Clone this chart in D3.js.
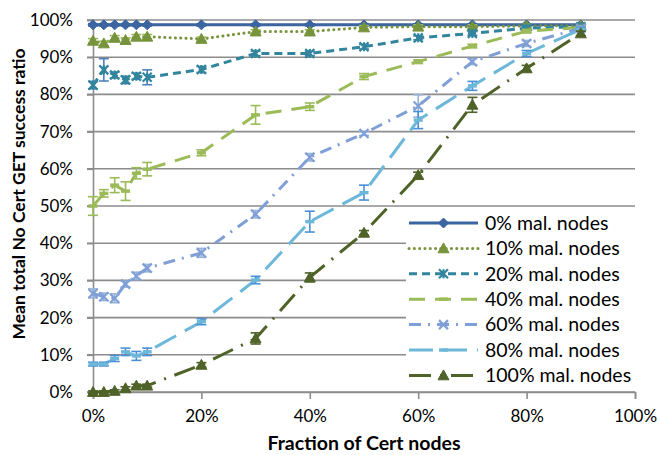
<!DOCTYPE html>
<html>
<head>
<meta charset="utf-8">
<script src="https://cdn.jsdelivr.net/npm/d3@7"></script>
<style>
  html, body { margin: 0; padding: 0; background: #fff; }
  svg { display: block; font-family: Lato, "Open Sans", sans-serif; }
</style>
</head>
<body>
<svg id="chart" width="658" height="455"></svg>
<script>
// Fraction of Cert nodes (x positions shared by every series)
const fractions = [0, 0.02, 0.04, 0.06, 0.08, 0.1, 0.2, 0.3, 0.4, 0.5, 0.6, 0.7, 0.8, 0.9];

const seriesNames = ["0% mal. nodes", "10% mal. nodes", "20% mal. nodes", "40% mal. nodes",
                     "60% mal. nodes", "80% mal. nodes", "100% mal. nodes"];

// Mean success ratio per series
const mal0   = [0.987, 0.987, 0.987, 0.987, 0.987, 0.987, 0.987, 0.987, 0.987, 0.987, 0.987, 0.987, 0.987, 0.987];
const mal10  = [0.944, 0.937, 0.952, 0.946, 0.955, 0.955, 0.949, 0.969, 0.969, 0.980, 0.982, 0.982, 0.984, 0.985];
const mal20  = [0.825, 0.866, 0.852, 0.839, 0.849, 0.846, 0.867, 0.910, 0.910, 0.928, 0.952, 0.964, 0.978, 0.982];
const mal40  = [0.500, 0.534, 0.556, 0.540, 0.588, 0.599, 0.643, 0.745, 0.767, 0.848, 0.888, 0.930, 0.970, 0.980];
const mal60  = [0.265, 0.256, 0.252, 0.290, 0.312, 0.333, 0.374, 0.478, 0.631, 0.695, 0.769, 0.888, 0.937, 0.978];
const mal80  = [0.075, 0.075, 0.090, 0.108, 0.097, 0.108, 0.189, 0.301, 0.458, 0.536, 0.731, 0.823, 0.910, 0.975];
const mal100 = [0.000, 0.000, 0.003, 0.010, 0.017, 0.017, 0.073, 0.144, 0.308, 0.428, 0.583, 0.772, 0.870, 0.964];

// Half-width of the error bars
const err0   = [0.003, 0.003, 0.003, 0.003, 0.003, 0.003, 0.003, 0.003, 0.003, 0.003, 0.003, 0.003, 0.003, 0.003];
const err10  = [0.006, 0.006, 0.006, 0.006, 0.006, 0.006, 0.005, 0.005, 0.005, 0.005, 0.005, 0.005, 0.005, 0.005];
const err20  = [0.010, 0.030, 0.008, 0.010, 0.008, 0.020, 0.008, 0.006, 0.006, 0.006, 0.005, 0.005, 0.005, 0.005];
const err40  = [0.025, 0.010, 0.020, 0.025, 0.015, 0.018, 0.008, 0.025, 0.010, 0.008, 0.005, 0.005, 0.005, 0.005];
const err60  = [0.012, 0.010, 0.012, 0.008, 0.010, 0.010, 0.012, 0.010, 0.010, 0.005, 0.030, 0.008, 0.008, 0.005];
const err80  = [0.005, 0.005, 0.008, 0.010, 0.012, 0.010, 0.008, 0.010, 0.028, 0.020, 0.023, 0.012, 0.008, 0.005];
const err100 = [0.003, 0.003, 0.003, 0.004, 0.004, 0.004, 0.006, 0.015, 0.012, 0.006, 0.008, 0.020, 0.008, 0.006];

const xTicks = [0, 0.2, 0.4, 0.6, 0.8, 1.0];
const yTicks = [0, 0.1, 0.2, 0.3, 0.4, 0.5, 0.6, 0.7, 0.8, 0.9, 1.0];

const values = [mal0, mal10, mal20, mal40, mal60, mal80, mal100];
const errors = [err0, err10, err20, err40, err60, err80, err100];

// Visual style per series
const styles = [
  { color: "#3A65A0", err: "#3A65A0", dash: null,        cap: "butt",  marker: "diamond" },
  { color: "#77933C", err: "#9BBB59", dash: "0.1 5.2",   cap: "round", marker: "triangle" },
  { color: "#31859C", err: "#4F81BD", dash: "8 5",       cap: "butt",  marker: "star" },
  { color: "#9BBB59", err: "#9BBB59", dash: "16 10",     cap: "butt",  marker: "dash" },
  { color: "#7F9FD6", err: "#95B3D7", dash: "12 7 2 7",  cap: "butt",  marker: "x" },
  { color: "#6DB8D8", err: "#4A8FD8", dash: "24 10",     cap: "butt",  marker: "dash" },
  { color: "#4F6228", err: "#4F6228", dash: "22 9 2 9",  cap: "butt",  marker: "triangle" }
];

const svg = d3.select("#chart");
const x = d3.scaleLinear().domain([0, 1]).range([93, 635]);
const y = d3.scaleLinear().domain([0, 1]).range([392, 20]);
const pct = d3.format(".0%");
const gridColor = "#8C8C8C";

// Horizontal gridlines
svg.append("g").selectAll("line").data(yTicks).join("line")
  .attr("x1", x(0) - 6).attr("x2", x(1))
  .attr("y1", d => y(d)).attr("y2", d => y(d))
  .attr("stroke", gridColor).attr("stroke-width", 1.6);

// Legend box (white background hiding gridlines)
const legX = 406, legY = 210;
svg.append("rect").attr("x", legX).attr("y", legY)
  .attr("width", x(1) - legX).attr("height", y(0) - legY - 1)
  .attr("fill", "#fff");

// Axes
const yAxis = svg.append("g").attr("transform", `translate(${x(0)},0)`)
  .call(d3.axisLeft(y).tickValues(yTicks).tickFormat(pct).tickSize(6).tickPadding(14));
const xAxis = svg.append("g").attr("transform", `translate(0,${y(0)})`)
  .call(d3.axisBottom(x).tickValues(xTicks).tickFormat(pct).tickSize(7).tickPadding(10));
[yAxis, xAxis].forEach(a => {
  a.select(".domain").attr("stroke", gridColor).attr("stroke-width", 1.6);
  a.selectAll(".tick line").attr("stroke", gridColor).attr("stroke-width", 1.6);
  a.selectAll("text").attr("fill", "#000").style("font-size", "17px")
    .style("font-family", "Lato, 'Open Sans', sans-serif");
});
xAxis.selectAll("text").attr("dy", "0.75em");

// Axis titles
svg.append("text").attr("x", x(0.5)).attr("y", 450)
  .attr("text-anchor", "middle").style("font-size", "19.5px").style("font-weight", "bold")
  .text("Fraction of Cert nodes");
svg.append("text").attr("transform", `translate(25,194) rotate(-90)`)
  .attr("text-anchor", "middle").style("font-size", "17.5px").style("font-weight", "bold")
  .text("Mean total No Cert GET success ratio");

// Marker shapes
function markerPath(type, s) {
  switch (type) {
    case "diamond": return `M0,${-s}L${s},0L0,${s}L${-s},0Z`;
    case "triangle": return `M0,${-s}L${s},${s * 0.8}L${-s},${s * 0.8}Z`;
    case "star": return `M${-s},${-s}L${s},${s}M${-s},${s}L${s},${-s}M0,${-s}L0,${s}`;
    case "x": return `M${-s},${-s}L${s},${s}M${-s},${s}L${s},${-s}`;
    case "dash": return `M${-s},0L${s},0`;
  }
}
function drawMarker(g, type, color, cx, cy) {
  const filled = type === "diamond" || type === "triangle";
  const size = type === "diamond" ? 5 : type === "triangle" ? 5.5 : 4.5;
  g.append("path").attr("d", markerPath(type, size))
    .attr("transform", `translate(${cx},${cy})`)
    .attr("fill", filled ? color : "none")
    .attr("stroke", color)
    .attr("stroke-width", filled ? 1 : (type === "dash" ? 3.5 : 2.2));
}

const line = d3.line().x(d => x(d[0])).y(d => y(d[1]));
const plot = svg.append("g");

// Draw series from bottom to top so the upper curves stay visible
values.forEach((vals, i) => {
  const st = styles[i];
  const pts = fractions.map((f, k) => [f, vals[k]]);
  const g = plot.append("g");
  g.append("path").datum(pts).attr("d", line)
    .attr("fill", "none").attr("stroke", st.color).attr("stroke-width", 3)
    .attr("stroke-linecap", st.cap)
    .attr("stroke-dasharray", st.dash);
  // error bars
  const eb = g.append("g").attr("stroke", st.err).attr("stroke-width", 1.6);
  pts.forEach(([f, v], k) => {
    const e = errors[i][k];
    const cx = x(f), y1 = y(v - e), y2 = y(v + e);
    eb.append("line").attr("x1", cx).attr("x2", cx).attr("y1", y1).attr("y2", y2);
    eb.append("line").attr("x1", cx - 5).attr("x2", cx + 5).attr("y1", y1).attr("y2", y1);
    eb.append("line").attr("x1", cx - 5).attr("x2", cx + 5).attr("y1", y2).attr("y2", y2);
  });
  pts.forEach(([f, v]) => drawMarker(g, st.marker, st.color, x(f), y(v)));
});

// Legend entries
const legend = svg.append("g");
seriesNames.forEach((name, i) => {
  const st = styles[i];
  const ly = 223 + i * 25.4;
  const row = legend.append("g");
  row.append("line").attr("x1", 409).attr("x2", 478).attr("y1", ly).attr("y2", ly)
    .attr("stroke", st.color).attr("stroke-width", 3)
    .attr("stroke-linecap", st.cap).attr("stroke-dasharray", st.dash);
  drawMarker(row, st.marker, st.color, 443.5, ly);
  row.append("text").attr("x", 485).attr("y", ly).attr("dy", "0.35em")
    .style("font-size", "19.5px").text(name);
});
</script>
</body>
</html>
